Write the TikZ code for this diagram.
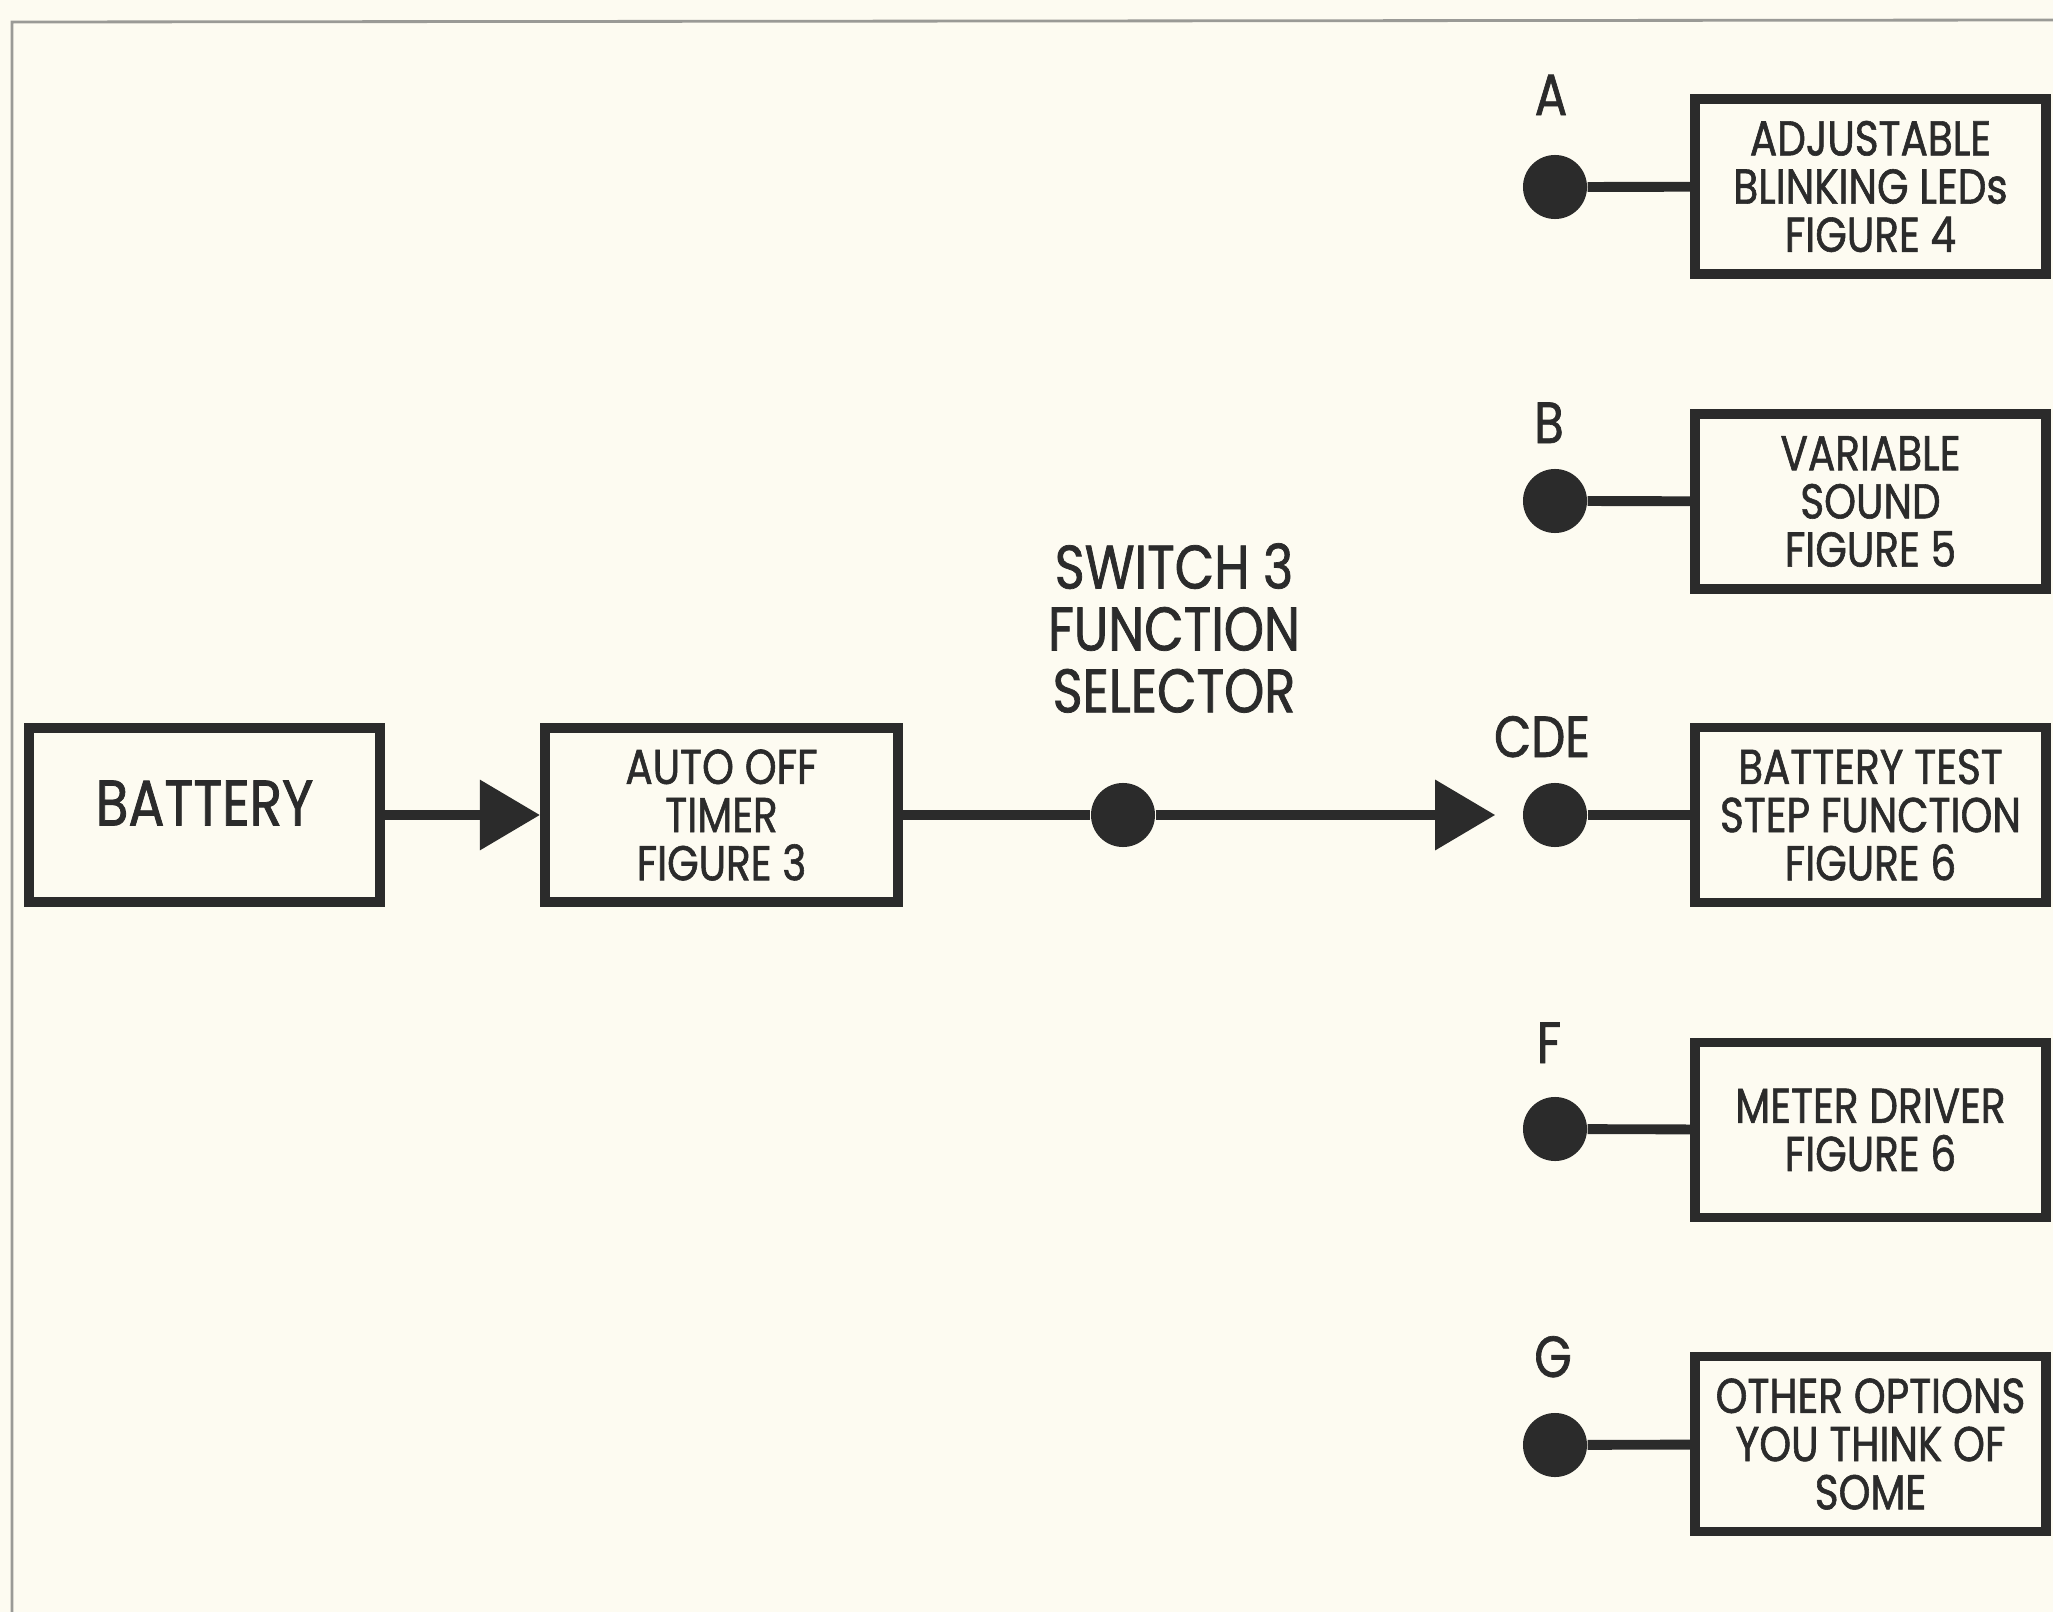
\documentclass[tikz,border=0pt]{standalone}
\usepackage{fontspec}
\setmainfont{Poppins}[FakeStretch=0.83,FakeBold=1.2]
\usetikzlibrary{arrows.meta}
\definecolor{ink}{HTML}{2B2B2B}
\definecolor{paper}{HTML}{FDFBF1}
\definecolor{framec}{HTML}{9A9A96}
\begin{document}
\begin{tikzpicture}[x=0.01cm,y=-0.01cm,
  blk/.style={draw=ink,line width=2.8pt,minimum width=3.5cm,minimum height=1.75cm,align=center,text=ink,
    font=\fontsize{13.9}{13.7}\selectfont,inner sep=0pt},
  dotn/.style={circle,fill=ink,minimum size=0.64cm,inner sep=0pt},
  wire/.style={draw=ink,line width=2.8pt},
  tip/.style={-{Triangle[length=0.6cm,width=0.68cm]}},
  lbl/.style={text=ink,font=\fontsize{16.5}{16.5}\selectfont,anchor=base,inner sep=0pt},
]
\fill[paper] (0,0) rectangle (2053,1612);
\useasboundingbox (0,0) rectangle (2053,1612);
\draw[framec,line width=0.8pt] (12,1612) -- (12,22) -- (2053,20);

% main row
\node[blk,minimum width=3.51cm,minimum height=1.74cm,font=\fontsize{18.3}{18}\selectfont] (bat) at (204.5,815) {\raisebox{0.24cm}{BATTERY}};
\node[blk,minimum width=3.53cm,minimum height=1.74cm] (timer) at (721.5,815) {AUTO OFF\\TIMER\\FIGURE 3};
\node[dotn] (sw) at (1123,815) {};
\node[dotn] (cde) at (1555,815) {};
\node[text=ink,align=center,inner sep=0pt,font=\fontsize{17.5}{17.6}\selectfont] (swl) at (1174,628) {SWITCH 3\\FUNCTION\\SELECTOR};

% right column
\node[dotn] (da) at (1555,187) {};
\node[dotn] (db) at (1555,501) {};
\node[dotn] (df) at (1555,1129) {};
\node[dotn] (dg) at (1555,1445) {};

\node[blk] (ba) at (1870.5,186.5) {ADJUSTABLE\\BLINKING LEDs\\FIGURE 4};
\node[blk] (bb) at (1870.5,501.5) {VARIABLE\\SOUND\\FIGURE 5};
\node[blk] (bc) at (1870.5,815) {BATTERY TEST\\STEP FUNCTION\\FIGURE 6};
\node[blk] (bf) at (1870.5,1130) {METER DRIVER\\FIGURE 6};
\node[blk] (bg) at (1870.5,1444) {OTHER OPTIONS\\YOU THINK OF\\SOME};

\node[lbl] (la) at (1551,115) {A};
\node[lbl] (lb) at (1549,443) {B};
\node[lbl] (lc) at (1542,757) {CDE};
\node[lbl] (lf) at (1549,1063) {F};
\node[lbl] (lg) at (1553,1377) {G};

% connectors
\draw[wire,tip] (bat) -- (timer);
\draw[wire] (timer) -- (sw);
\draw[wire,tip,shorten >=0.27cm] (sw) -- (cde);
\draw[wire] (da) -- (ba);
\draw[wire] (db) -- (bb);
\draw[wire] (cde) -- (bc);
\draw[wire] (df) -- (bf);
\draw[wire] (dg) -- (bg);
\end{tikzpicture}
\end{document}
